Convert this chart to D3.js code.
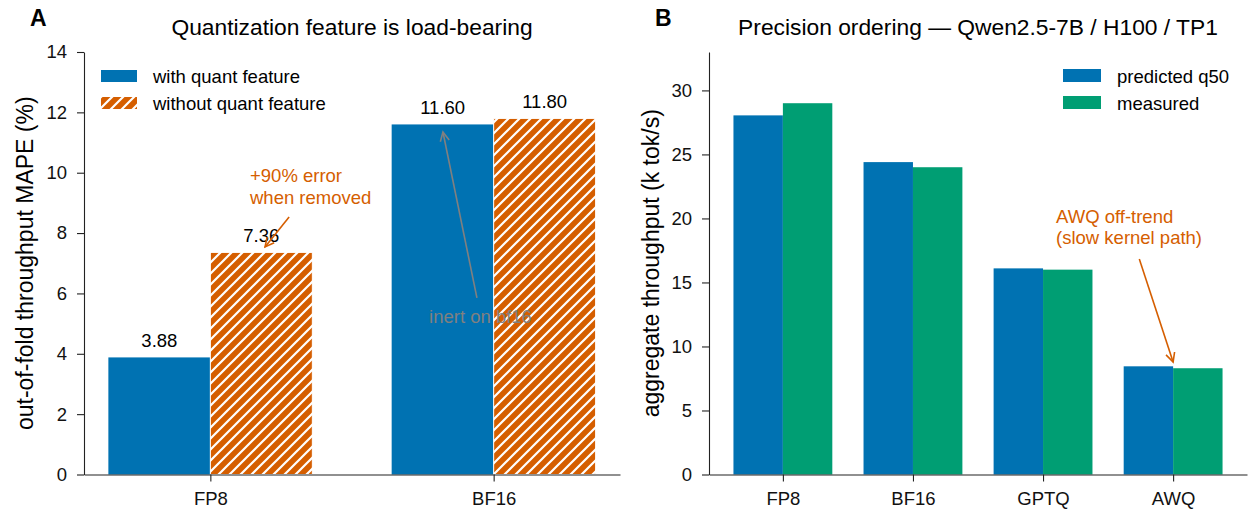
<!DOCTYPE html>
<html><head><meta charset="utf-8">
<script src="https://cdn.jsdelivr.net/npm/d3@7"></script>
<style>
body{margin:0;background:#fff;}
svg{font-family:"Liberation Sans",Arial,sans-serif;}
</style></head>
<body><svg id="c" width="1249" height="511"></svg>
<script>
// ---------- data ----------
const catsA = ["FP8", "BF16"];
const withQuant = [3.88, 11.60];
const withoutQuant = [7.36, 11.80];
const ticksA = [0, 2, 4, 6, 8, 10, 12, 14];

const catsB = ["FP8", "BF16", "GPTQ", "AWQ"];
const predicted = [28.05, 24.4, 16.1, 8.45];
const measured = [29.0, 24.0, 16.0, 8.3];
const ticksB = [0, 5, 10, 15, 20, 25, 30];

const BLUE = "#0072B2", ORANGE = "#D55E00", GREEN = "#009E73", GRAY = "#808080";
const FS = 18.5, FT = 22.8, FL = 23;

const svg = d3.select("#c");
const defs = svg.append("defs");
const pat = defs.append("pattern").attr("id","hatch").attr("patternUnits","userSpaceOnUse")
  .attr("width",11).attr("height",11);
pat.append("rect").attr("width",11).attr("height",11).attr("fill",ORANGE);
pat.append("path").attr("d","M-2,13 L13,-2 M-5,5 L5,-5 M6,16 L16,6").attr("stroke","#fff").attr("stroke-width",2.2);

function marker(id,color){
  defs.append("marker").attr("id",id).attr("viewBox","-10 -6 12 12").attr("refX",0).attr("refY",0)
   .attr("markerWidth",12).attr("markerHeight",12).attr("markerUnits","userSpaceOnUse").attr("orient","auto")
   .append("path").attr("d","M-9,-4.5 L0,0 L-9,4.5").attr("fill","none").attr("stroke",color).attr("stroke-width",1.6);
}
marker("arrO",ORANGE); marker("arrG",GRAY);

const Y0 = 474.5, Y1 = 52;
const TS = 7, TP = 10;

// ---------- panel A ----------
const xA = d3.scaleLinear().domain([-0.446, 1.446]).range([84, 620]);
const yA = d3.scaleLinear().domain([0, 14]).range([Y0, Y1]);
const wA = 0.36;
const gA = svg.append("g");

gA.selectAll(".bw").data(withQuant).join("rect")
  .attr("x",(d,i)=>xA(i-wA)).attr("width",xA(wA)-xA(0))
  .attr("y",d=>yA(d)).attr("height",d=>Y0-yA(d)).attr("fill",BLUE);
gA.selectAll(".bo").data(withoutQuant).join("rect")
  .attr("x",(d,i)=>xA(i)).attr("width",xA(wA)-xA(0))
  .attr("y",d=>yA(d)).attr("height",d=>Y0-yA(d)).attr("fill","url(#hatch)")
  .attr("stroke","#fff").attr("stroke-width",1);

gA.selectAll(".lw").data(withQuant).join("text")
  .attr("x",(d,i)=>xA(i-wA/2)).attr("y",d=>yA(d)-10).attr("text-anchor","middle")
  .attr("font-size",FS).attr("fill","#000").text(d=>d.toFixed(2));
gA.selectAll(".lo").data(withoutQuant).join("text")
  .attr("x",(d,i)=>xA(i+wA/2)).attr("y",d=>yA(d)-10).attr("text-anchor","middle")
  .attr("font-size",FS).attr("fill","#000").text(d=>d.toFixed(2));

gA.append("g").attr("transform",`translate(${xA.range()[0]},0)`)
  .call(d3.axisLeft(yA).tickValues(ticksA).tickSize(TS).tickSizeOuter(0).tickPadding(TP).tickFormat(d3.format("d")));
gA.append("g").attr("transform",`translate(0,${Y0})`)
  .call(d3.axisBottom(xA).tickValues([0,1]).tickSize(TS).tickSizeOuter(0).tickPadding(TP).tickFormat((d,i)=>catsA[i]));

// annotations A
gA.append("line").attr("x1",xA(0.278)).attr("y1",yA(8.53)).attr("x2",xA(0.193)).attr("y2",yA(7.54))
  .attr("stroke",ORANGE).attr("stroke-width",1.6).attr("marker-end","url(#arrO)");
const tO = gA.append("text").attr("font-size",FS).attr("fill",ORANGE);
tO.append("tspan").attr("x",xA(0.140)).attr("y",yA(9.69)).text("+90% error");
tO.append("tspan").attr("x",xA(0.140)).attr("y",yA(9.69)+21.5).text("when removed");

gA.append("line").attr("x1",xA(0.941)).attr("y1",yA(5.85)).attr("x2",xA(0.821)).attr("y2",yA(11.35))
  .attr("stroke",GRAY).attr("stroke-width",1.6).attr("marker-end","url(#arrG)");
gA.append("text").attr("x",xA(0.772)).attr("y",yA(5.02)).attr("font-size",FS).attr("fill",GRAY).text("inert on bf16");

// legend A
const legA = [{t:"with quant feature",f:BLUE},{t:"without quant feature",f:"url(#hatch)"}];
legA.forEach((d,i)=>{
  gA.append("rect").attr("x",101).attr("y",70+i*27).attr("width",36).attr("height",12).attr("fill",d.f);
  gA.append("text").attr("x",153).attr("y",82.5+i*27).attr("font-size",FS).text(d.t);
});

gA.append("text").attr("x",(84+620)/2).attr("y",35).attr("text-anchor","middle").attr("font-size",FT).text("Quantization feature is load-bearing");
gA.append("text").attr("x",30).attr("y",25.5).attr("font-size",23).attr("font-weight","bold").text("A");
gA.append("text").attr("transform",`translate(33,${(Y0+Y1)/2}) rotate(-90)`).attr("text-anchor","middle")
  .attr("font-size",FL).text("out-of-fold throughput MAPE (%)");

// ---------- panel B ----------
const xB = d3.scaleLinear().domain([-0.568, 3.568]).range([709, 1247]);
const yB = d3.scaleLinear().domain([0, 33]).range([Y0, Y1]);
const wB = 0.38;
const gB = svg.append("g");
gB.selectAll(".bp").data(predicted).join("rect")
  .attr("x",(d,i)=>xB(i-wB)).attr("width",xB(wB)-xB(0))
  .attr("y",d=>yB(d)).attr("height",d=>Y0-yB(d)).attr("fill",BLUE);
gB.selectAll(".bm").data(measured).join("rect")
  .attr("x",(d,i)=>xB(i)).attr("width",xB(wB)-xB(0))
  .attr("y",d=>yB(d)).attr("height",d=>Y0-yB(d)).attr("fill",GREEN);

gB.append("g").attr("transform",`translate(${xB.range()[0]},0)`)
  .call(d3.axisLeft(yB).tickValues(ticksB).tickSize(TS).tickSizeOuter(0).tickPadding(TP).tickFormat(d3.format("d")));
gB.append("g").attr("transform",`translate(0,${Y0})`)
  .call(d3.axisBottom(xB).tickValues([0,1,2,3]).tickSize(TS).tickSizeOuter(0).tickPadding(TP).tickFormat((d,i)=>catsB[i]));

gB.append("line").attr("x1",xB(2.74)).attr("y1",yB(16.84)).attr("x2",xB(3.0)).attr("y2",yB(8.79))
  .attr("stroke",ORANGE).attr("stroke-width",1.6).attr("marker-end","url(#arrO)");
const tB = gB.append("text").attr("font-size",FS).attr("fill",ORANGE);
tB.append("tspan").attr("x",xB(2.10)).attr("y",yB(19.65)).text("AWQ off-trend");
tB.append("tspan").attr("x",xB(2.10)).attr("y",yB(19.65)+21.5).text("(slow kernel path)");

const legB = [{t:"predicted q50",f:BLUE},{t:"measured",f:GREEN}];
legB.forEach((d,i)=>{
  gB.append("rect").attr("x",1063).attr("y",69+i*27).attr("width",38).attr("height",13).attr("fill",d.f);
  gB.append("text").attr("x",1117).attr("y",82.5+i*27).attr("font-size",FS).text(d.t);
});

gB.append("text").attr("x",(709+1247)/2).attr("y",35).attr("text-anchor","middle").attr("font-size",FT).text("Precision ordering — Qwen2.5-7B / H100 / TP1");
gB.append("text").attr("x",655).attr("y",25.5).attr("font-size",23).attr("font-weight","bold").text("B");
gB.append("text").attr("transform",`translate(659,${(Y0+Y1)/2}) rotate(-90)`).attr("text-anchor","middle")
  .attr("font-size",FL).text("aggregate throughput (k tok/s)");

// axis styling
svg.selectAll(".domain").attr("stroke","#222").attr("stroke-width",1.1);
svg.selectAll(".tick line").attr("stroke","#222").attr("stroke-width",1.1);
svg.selectAll(".tick text").attr("font-size",FS).attr("fill","#111").attr("font-family","Liberation Sans, Arial, sans-serif");
</script></body></html>
